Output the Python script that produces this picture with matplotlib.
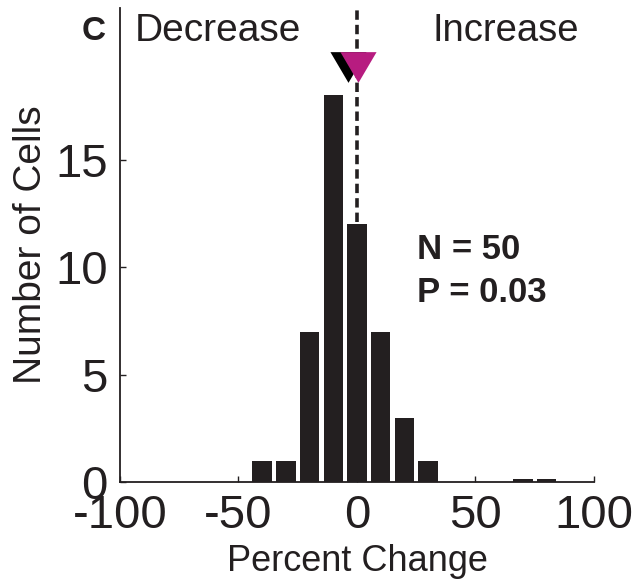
import numpy as np
import matplotlib
matplotlib.use("Agg")
import matplotlib.pyplot as plt

plt.rcParams["font.family"] = ["Liberation Sans", "DejaVu Sans"]

# histogram of percent change (bin centres, counts)
bin_centres = [-40, -30, -20, -10, 0, 10, 20, 30, 70, 80]
counts = [1, 1, 7, 18, 12, 7, 3, 1, 0.12, 0.12]
mean_black = -3.6
mean_magenta = 0.4
marker_y = 19.3
n_cells = 50
p_value = 0.03

bar_col = "#231f20"
magenta = "#b71c80"

W, H = 636, 584
fig = plt.figure(figsize=(W / 100, H / 100), dpi=100)
ax = fig.add_axes([120 / W, 1 - 482 / H, (594 - 120) / W, (482 - 8) / H])

ax.bar(bin_centres, counts, width=8.2, color=bar_col, linewidth=0, zorder=2)

# zero line
ax.axvline(0, color=bar_col, lw=2.6, linestyle=(0, (2.6, 1.4)), zorder=1)

tri = [(-1, 0.85), (1, 0.85), (0, -0.85)]
ax.plot([mean_black], [marker_y], marker=tri, ms=26, color="black", mew=0, zorder=3)
ax.plot([mean_magenta], [marker_y], marker=tri, ms=26, color=magenta, mew=0, zorder=4)

ax.set_xlim(-100, 100)
ax.set_ylim(0, 22.07)
ax.set_xticks([-100, -50, 0, 50, 100])
ax.set_xticklabels(["-100", "-50", "0", "50", "100"])
ax.set_yticks([0, 5, 10, 15])

for s in ["top", "right"]:
    ax.spines[s].set_visible(False)
for s in ["left", "bottom"]:
    ax.spines[s].set_linewidth(1.3)
    ax.spines[s].set_color(bar_col)

ax.tick_params(direction="in", length=4, width=1, colors=bar_col, labelsize=34)
ax.tick_params(axis="x", pad=9)
ax.tick_params(axis="y", pad=9)

ax.set_xlabel("Percent Change", fontsize=26, color=bar_col, labelpad=4)
ax.set_ylabel("Number of Cells", fontsize=28, color=bar_col, labelpad=4)

fig.text(135 / W, 1 - 41 / H, "Decrease", fontsize=28, color=bar_col, va="baseline")
fig.text(432 / W, 1 - 41 / H, "Increase", fontsize=27.5, color=bar_col, va="baseline")
fig.text(82 / W, 1 - 40 / H, "C", fontsize=24, fontweight="bold", color=bar_col, va="baseline")

fig.text(417 / W, 1 - 259 / H, f"N = {n_cells}", fontsize=25, fontweight="bold",
         color=bar_col, va="baseline")
fig.text(417 / W, 1 - 302 / H, f"P = {p_value}", fontsize=25, fontweight="bold",
         color=bar_col, va="baseline")

fig.savefig("out.png", dpi=100)
